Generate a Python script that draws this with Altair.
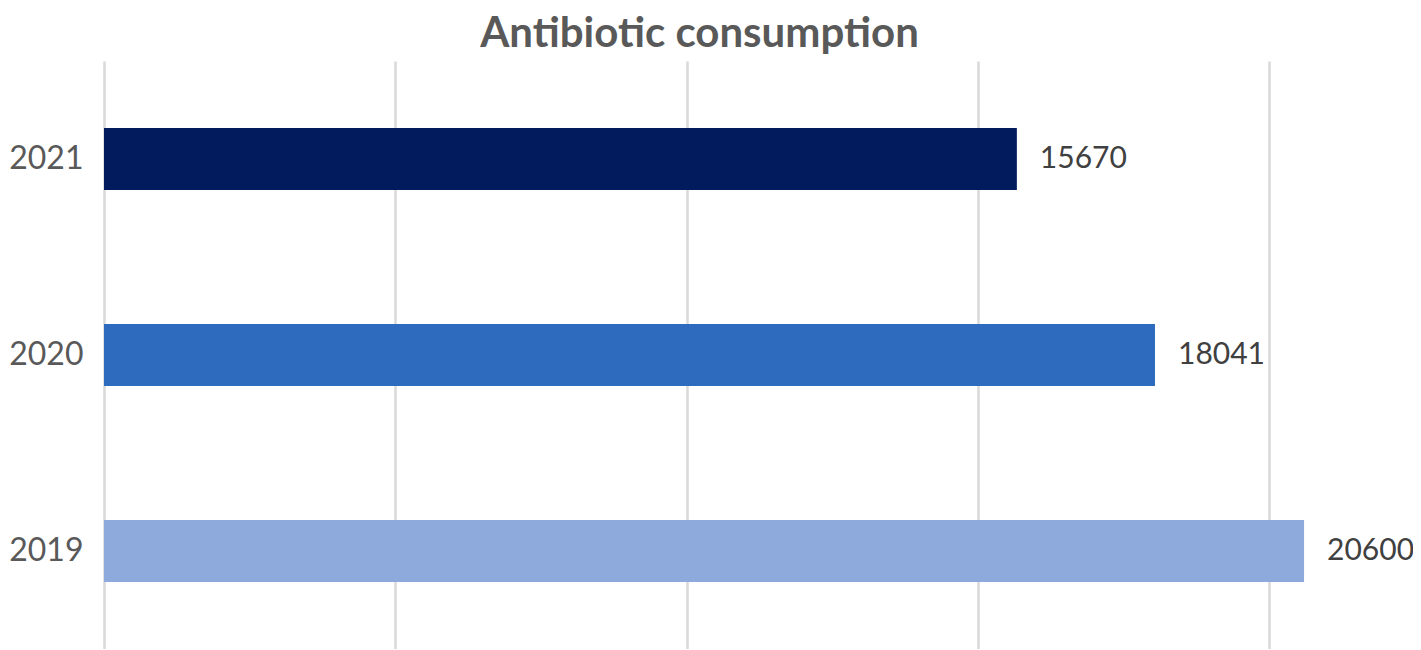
import altair as alt
import pandas as pd

years = ["2021", "2020", "2019"]
values = [15670, 18041, 20600]
colors = ["#011B5C", "#2E6BBF", "#8EA9DB"]
grid_ticks = [0, 5000, 10000, 15000, 20000]
title_text = "Antibiotic consumption"

df = pd.DataFrame({"year": years, "value": values})

FONT = "Lato"

y_enc = alt.Y(
    "year:N",
    sort=years,
    scale=alt.Scale(paddingInner=0.684, paddingOuter=0.342),
    axis=alt.Axis(
        title=None, domain=False, ticks=False, grid=False,
        labelFont=FONT, labelFontSize=32, labelColor="#595959",
        labelPadding=21,
    ),
)
x_enc = alt.X(
    "value:Q",
    scale=alt.Scale(domain=[0, 22470], nice=False),
    axis=alt.Axis(
        title=None, labels=False, ticks=False, domain=False,
        values=grid_ticks, grid=True, gridColor="#D9D9D9", gridWidth=2.5,
    ),
)

bars = alt.Chart(df).mark_bar().encode(
    x=x_enc,
    y=y_enc,
    color=alt.Color("year:N", scale=alt.Scale(domain=years, range=colors), legend=None),
)

labels = alt.Chart(df).mark_text(
    align="left", baseline="middle", dx=23, font=FONT, fontSize=30, color="#404040"
).encode(
    x=alt.X("value:Q"),
    y=alt.Y("year:N", sort=years),
    text=alt.Text("value:Q", format="d"),
)

chart = alt.layer(bars, labels).properties(
    width=1309,
    height=588,
    autosize=alt.AutoSizeParams(type="none"),
    padding={"left": 96, "top": 53, "right": 0, "bottom": 0},
    title=alt.TitleParams(
        text=title_text, font=FONT, fontSize=42, fontWeight="bold",
        color="#595959", anchor="middle", offset=5, dx=-59,
    ),
).configure_view(stroke=None)

chart.save("out.html", embed_options={"renderer": "svg", "actions": False})
